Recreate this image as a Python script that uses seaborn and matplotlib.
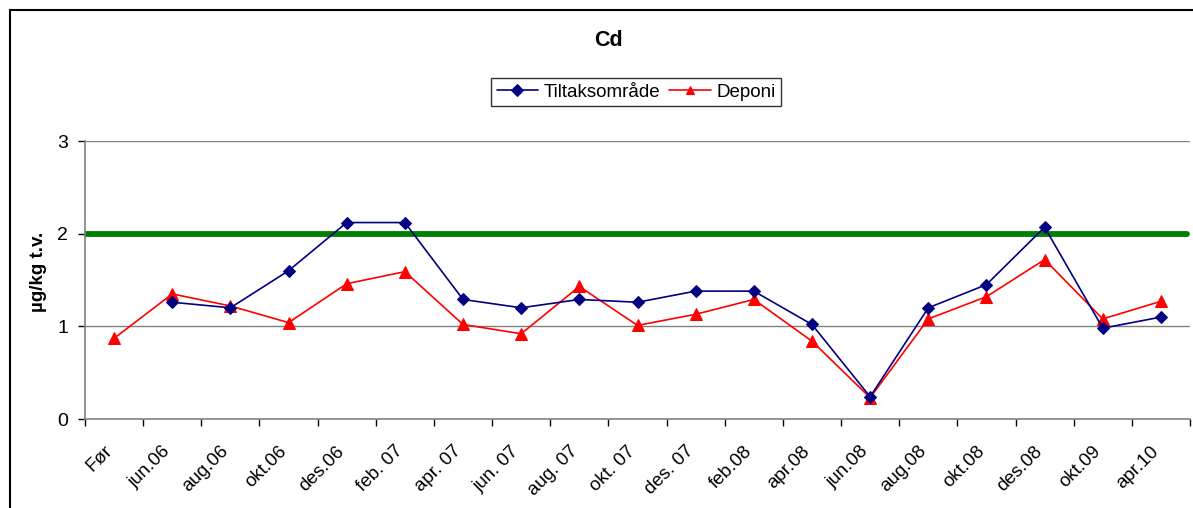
import numpy as np
import pandas as pd
import matplotlib
matplotlib.use("Agg")
import matplotlib.pyplot as plt
import matplotlib.patches as mpatches
import seaborn as sns

categories = ["Før", "jun.06", "aug.06", "okt.06", "des.06", "feb. 07", "apr. 07",
              "jun. 07", "aug. 07", "okt. 07", "des. 07", "feb.08", "apr.08",
              "jun.08", "aug.08", "okt.08", "des.08", "okt.09", "apr.10"]
tiltak = [np.nan, 1.26, 1.20, 1.60, 2.12, 2.12, 1.29, 1.20, 1.29, 1.26, 1.38, 1.38,
          1.02, 0.24, 1.20, 1.45, 2.07, 0.98, 1.10]
deponi = [0.87, 1.35, 1.22, 1.04, 1.46, 1.59, 1.02, 0.92, 1.43, 1.01, 1.13, 1.29,
          0.84, 0.23, 1.08, 1.32, 1.72, 1.08, 1.27]
limit_value = 2.0
yticks = [0, 1, 2, 3]

sns.set_theme(style="white")
plt.rcParams['font.family'] = ['Liberation Sans', 'DejaVu Sans']
plt.rcParams['text.color'] = 'black'
plt.rcParams['xtick.color'] = 'black'
plt.rcParams['ytick.color'] = 'black'
plt.rcParams['axes.labelcolor'] = 'black'

W, H = 1193, 508
fig = plt.figure(figsize=(W / 100, H / 100), dpi=100)
ax = fig.add_axes([85 / W, 1 - 419 / H, (1190 - 85) / W, (419 - 141) / H])

xpos = np.arange(len(categories))
df = pd.DataFrame({"x": np.concatenate([xpos, xpos]),
                   "value": tiltak + deponi,
                   "series": ["Tiltaksområde"] * len(xpos) + ["Deponi"] * len(xpos)})

grey = "#808080"
for yv in [1, 3]:
    ax.axhline(yv, color=grey, lw=1.0, zorder=1)
ax.axhline(limit_value, color="#008000", lw=4.2, zorder=2, xmax=0.997)

sns.lineplot(data=df[df.series == "Tiltaksområde"].dropna(), x="x", y="value",
             color="#000080", marker="D", markersize=6, markeredgecolor="#000080",
             lw=1.2, ax=ax, label="Tiltaksområde", zorder=4)
sns.lineplot(data=df[df.series == "Deponi"], x="x", y="value",
             color="#ff0000", marker="^", markersize=8, markeredgecolor="#ff0000",
             lw=1.2, ax=ax, label="Deponi", zorder=3)

ax.set_xlim(-0.5, len(categories) - 0.5)
ax.set_ylim(0, 3)
ax.set_yticks(yticks)
ax.set_yticklabels([str(v) for v in yticks], fontsize=14)
# label anchors sit slightly left of each category centre, as in the reference
ax.set_xticks(xpos - 0.18)
ax.set_xticklabels(categories, rotation=45, ha="right", va="top",
                   rotation_mode="anchor", fontsize=13.5)
ax.tick_params(axis="x", which="major", length=0, pad=17)
ax.set_xticks(np.arange(-0.5, len(categories), 1.0), minor=True)
ax.tick_params(axis="x", which="minor", length=5, color="black", width=1, direction="out", bottom=True)
ax.tick_params(axis="y", length=5, color="black", width=1, direction="out", left=True, pad=7)
ax.set_xlabel("")
ax.set_ylabel("µg/kg t.v.", fontsize=13.5, fontweight="bold", labelpad=5)
ax.yaxis.set_label_coords(-38 / (1190 - 85), 0.53)

for s in ["top", "right"]:
    ax.spines[s].set_visible(False)
for s in ["left", "bottom"]:
    ax.spines[s].set_color(grey)
    ax.spines[s].set_linewidth(1.2)

fig.text(608 / W, 1 - 41 / H, "Cd", fontsize=15.5, fontweight="bold", ha="center", va="center")

leg = ax.legend(loc="center", bbox_to_anchor=(636 / W, 1 - 92 / H), bbox_transform=fig.transFigure,
                ncol=2, fontsize=13.5, frameon=True, fancybox=False, edgecolor="black",
                handlelength=2.2, columnspacing=0.5, handletextpad=0.3, borderpad=0.3)
leg.get_frame().set_linewidth(1.0)
for h in leg.legend_handles:
    h.set_markersize(6)

rect = mpatches.Rectangle((10 / W, -0.2), 1.2, 1.2 - 10 / H, transform=fig.transFigure,
                          fill=False, edgecolor="black", lw=1.5)
fig.patches.append(rect)

fig.savefig("out.png", dpi=100)
